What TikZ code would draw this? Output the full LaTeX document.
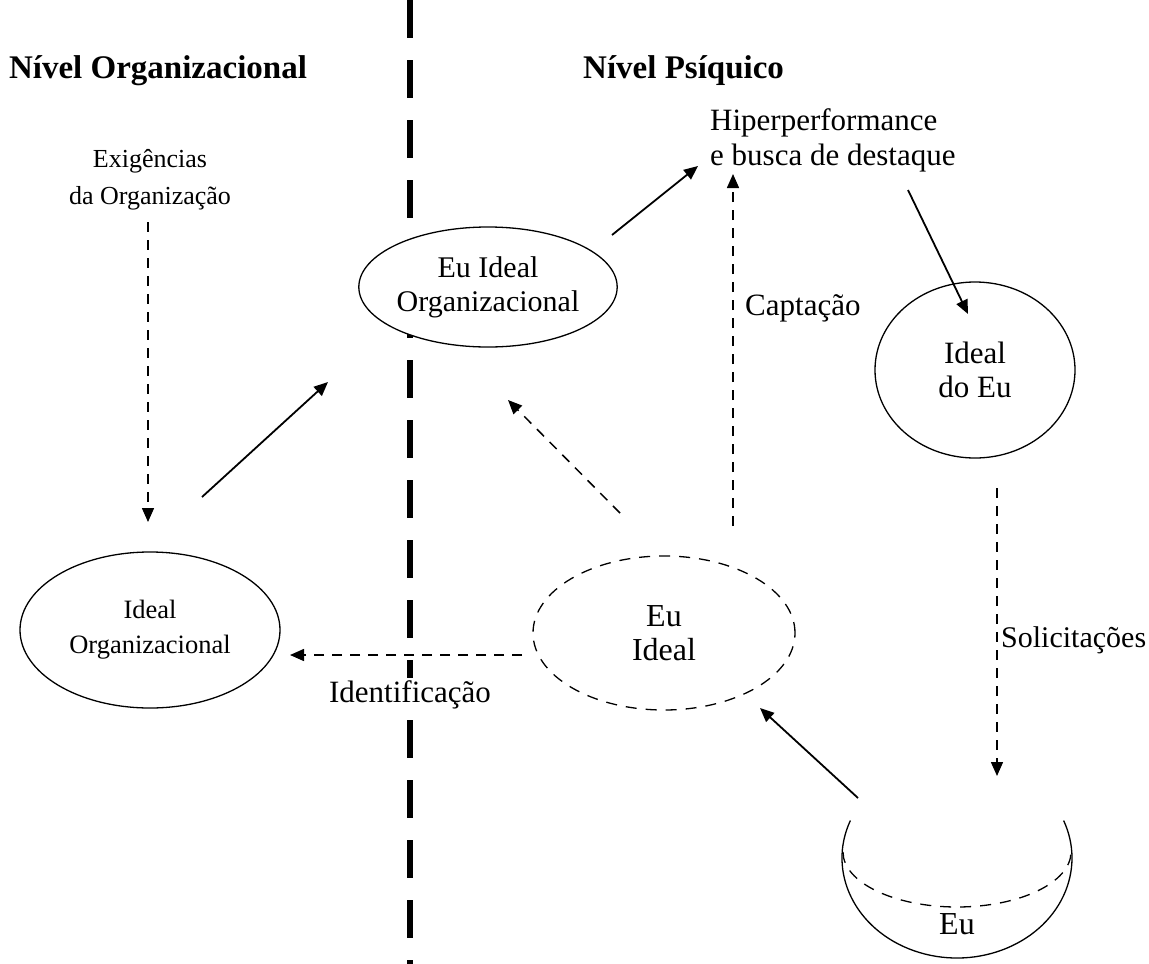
\documentclass[tikz,border=0pt]{standalone}
\usepackage{fontspec}
\setmainfont{Liberation Serif}
\usetikzlibrary{arrows.meta,shapes.geometric}
\newcommand{\fs}[1]{\fontsize{#1}{#1*1.15}\selectfont}
\begin{document}
\begin{tikzpicture}[x=1pt,y=-1pt,
  txt/.style={align=center, inner sep=0pt},
  ttl/.style={font=\fontsize{33}{38}\selectfont\bfseries, inner sep=0pt},
  ell/.style={ellipse, draw, line width=1.3pt, fill=white, inner sep=0pt, align=center},
  solidarrow/.style={line width=1.8pt, -{Triangle[length=14pt,width=12pt]}},
  dasharrow/.style={line width=1.5pt, dash pattern=on 10pt off 8pt, -{Triangle[length=14pt,width=12pt]}},
  divider/.style={line width=6pt, dash pattern=on 38pt off 22pt}
  ]
\useasboundingbox (0,0) rectangle (1149,964);
% dividing line
\coordinate (vtop) at (410,0);
\coordinate (vbot) at (410,964);
\draw[divider] (vtop) -- (vbot);

% titles
\node[ttl] (t1) at (158,71) {Nível Organizacional};
\node[ttl, anchor=west] (t2) at (583,71) {Nível Psíquico};

% ellipses
\node[ell, minimum width=236pt, minimum height=120pt, font=\fontsize{30}{34}\selectfont] (eio) at (488,287) {Eu Ideal\\Organizacional};
\node[ell, minimum width=260pt, minimum height=156pt, font=\fontsize{26.5}{35}\selectfont] (io) at (150,630) {Ideal\\Organizacional};
\node[ell, dashed, dash pattern=on 11pt off 9pt, minimum width=262pt, minimum height=154pt, font=\fontsize{32}{34}\selectfont] (ei) at (664,633) {Eu\\Ideal};
\node[ell, minimum width=200pt, minimum height=176pt, font=\fontsize{31}{34}\selectfont] (ide) at (975,370) {Ideal\\do Eu};

% Eu shape
\coordinate (euc) at (957,858);
\draw[line width=1.3pt] (euc) ++(-158:115 and 100) arc[start angle=-158, end angle=-382, x radius=115, y radius=100];
\coordinate (eud) at (957,852);
\draw[line width=1.3pt, dash pattern=on 11pt off 9pt] (eud) ++(180:114 and 55) arc[start angle=180, end angle=0, x radius=114, y radius=55];
\node[txt, font=\fontsize{32}{36}\selectfont] (eu) at (957,924) {Eu};

% texts
\node[txt, align=left, anchor=west, font=\fontsize{31}{35}\selectfont] (hip) at (710,140) {Hiperperformance\\e busca de destaque};
\node[txt, font=\fontsize{26}{37}\selectfont] (exi) at (150,180) {Exigências\\da Organização};
\node[txt, anchor=west, font=\fontsize{31}{35}\selectfont] (cap) at (745,308) {Captação};
\node[txt, anchor=west, font=\fontsize{30}{35}\selectfont] (sol) at (1001,640) {Solicitações};
\node[txt, fill=white, inner sep=3pt, font=\fontsize{31}{35}\selectfont] (ide2) at (410,695) {Identificação};

% arrow coordinates
\coordinate (a1s) at (148,222); \coordinate (a1e) at (148,522);
\coordinate (a2s) at (202,497); \coordinate (a2e) at (328,382);
\coordinate (a3s) at (612,235); \coordinate (a3e) at (698,166);
\coordinate (a4s) at (733,526); \coordinate (a4e) at (733,174);
\coordinate (a5s) at (620,513); \coordinate (a5e) at (508,400);
\coordinate (a6s) at (908,190); \coordinate (a6e) at (968,314);
\coordinate (a7s) at (997,488); \coordinate (a7e) at (997,776);
\coordinate (a8s) at (522,655); \coordinate (a8e) at (290,655);
\coordinate (a9s) at (858,798); \coordinate (a9e) at (760,708);

\draw[dasharrow] (a1s) -- (a1e);
\draw[solidarrow] (a2s) -- (a2e);
\draw[solidarrow] (a3s) -- (a3e);
\draw[dasharrow] (a4s) -- (a4e);
\draw[dasharrow] (a5s) -- (a5e);
\draw[solidarrow] (a6s) -- (a6e);
\draw[dasharrow] (a7s) -- (a7e);
\draw[dasharrow] (a8s) -- (a8e);
\draw[solidarrow] (a9s) -- (a9e);
\end{tikzpicture}
\end{document}
